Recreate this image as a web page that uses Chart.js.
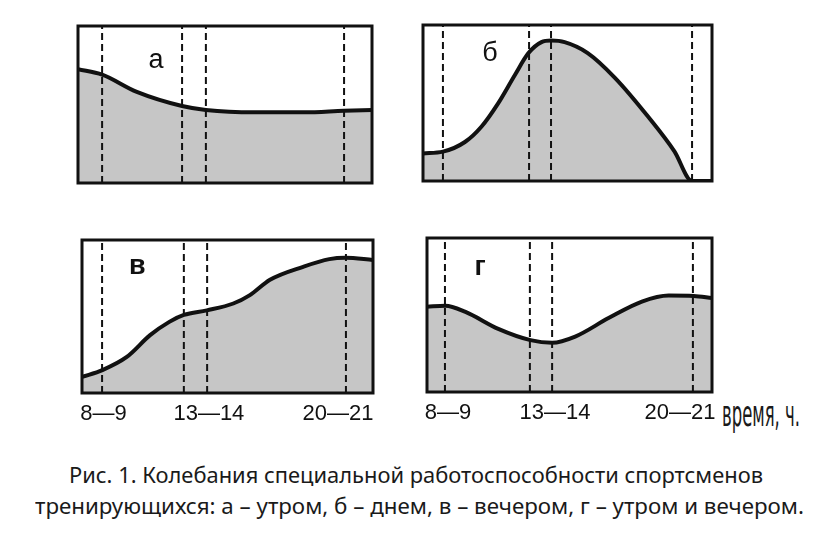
<!DOCTYPE html>
<html>
<head>
<meta charset="utf-8">
<script src="https://cdn.jsdelivr.net/npm/chart.js@4.4.0/dist/chart.umd.min.js"></script>
<style>
  html, body { margin: 0; padding: 0; background: #fff; }
  #root { position: relative; width: 828px; height: 534px; overflow: hidden; background: #fff; }
  canvas { position: absolute; }
  .txt { position: absolute; white-space: nowrap; color: #111; transform-origin: 0 0; }
  .cap { font-family: "Noto Sans", sans-serif; font-size: 21px; line-height: 21px; color: #1a1a1a; }
  .unit { font-family: "DejaVu Sans Condensed", "DejaVu Sans", sans-serif; font-stretch: condensed; font-size: 35px; line-height: 35px; color: #1a1a1a; }
</style>
</head>
<body>
<div id="root">
  <canvas id="cA"></canvas>
  <canvas id="cB"></canvas>
  <canvas id="cV"></canvas>
  <canvas id="cG"></canvas>
  <div class="txt unit" id="unit">время, ч.</div>
  <div class="txt cap" id="cap1">Рис. 1. Колебания специальной работоспособности спортсменов</div>
  <div class="txt cap" id="cap2">тренирующихся: а – утром, б – днем, в – вечером, г – утром и вечером.</div>
</div>
<script>
// ---- data (x in % of the panel width, y in % of panel height) ----
const panelLetters = ['а', 'б', 'в', 'г'];

const xA = [0, 8.2, 20, 35.4, 43.5, 60, 77, 90.5, 100];
const yA = [72.5, 69, 58, 49, 46.5, 45, 45, 46, 46.5];

const xB = [0, 6.9, 14.5, 20.2, 26, 31.8, 36.5, 41, 44.3, 49, 57, 66.5, 78, 87, 93.1, 100];
const yB = [17.7, 18.8, 25, 34.8, 49.8, 68, 82, 89, 90, 89, 82, 66, 41, 19, 0, 0];

const xV = [0, 7, 15.4, 23.4, 30, 35, 42.9, 52, 57.7, 64.6, 76, 85, 90.5, 100];
const yV = [10.5, 15, 23.6, 37.8, 46.5, 51, 54, 58.5, 64, 74, 82.5, 87.5, 88.4, 87];

const xG = [0, 6.4, 13.5, 25, 36.3, 43.9, 52, 63.7, 75.4, 84.8, 93.6, 100];
const yG = [55.4, 56, 52, 41, 33.7, 32, 36, 48, 58.7, 62.6, 62.4, 61];

const dashA = [8.2, 35.4, 43.5, 90.5];
const dashB = [6.9, 36.7, 44.3, 93.1];
const dashV = [6.9, 35, 43, 90.7];
const dashG = [6.3, 36.1, 43.9, 93.3];

const tickLabels = ['8—9', '13—14', '20—21'];
const tickPosV = [7.4, 43.6, 88];
const tickPosG = [7.4, 44.9, 88.8];

// ---- layout ----
const panels = [
  { id: 'cA', box: { l: 78,  t: 26,  r: 372, b: 183 }, xs: xA, ys: yA, dash: dashA, letter: panelLetters[0], lp: [26.5, 78], bold: false, ticks: null },
  { id: 'cB', box: { l: 423, t: 25,  r: 712, b: 181 }, xs: xB, ys: yB, dash: dashB, letter: panelLetters[1], lp: [23.2, 82], bold: false, ticks: null },
  { id: 'cV', box: { l: 82,  t: 240, r: 373, b: 393 }, xs: xV, ys: yV, dash: dashV, letter: panelLetters[2], lp: [19, 82.7], bold: true, ticks: tickPosV },
  { id: 'cG', box: { l: 427, t: 238, r: 712, b: 392 }, xs: xG, ys: yG, dash: dashG, letter: panelLetters[3], lp: [18.6, 80.5], bold: true, ticks: tickPosG }
];

const PAD = 3;
const AXIS_H = 40;

const framePlugin = {
  id: 'frame',
  afterDatasetsDraw(chart, args, opts) {
    const { ctx, chartArea: a, scales } = chart;
    ctx.save();
    ctx.lineWidth = 3;
    ctx.strokeStyle = '#111';
    ctx.strokeRect(a.left, a.top, a.right - a.left, a.bottom - a.top);
    ctx.fillStyle = '#111';
    ctx.font = (opts.bold ? 'bold ' : '') + '27px "Liberation Sans", Arial, sans-serif';
    ctx.textAlign = 'center';
    ctx.textBaseline = 'middle';
    ctx.fillText(opts.letter, scales.x.getPixelForValue(opts.lp[0]), scales.y.getPixelForValue(opts.lp[1]));
    ctx.restore();
  }
};

panels.forEach(p => {
  const w = p.box.r - p.box.l, h = p.box.b - p.box.t;
  const cv = document.getElementById(p.id);
  const cw = w + 2 * PAD;
  const ch = h + 2 * PAD + (p.ticks ? AXIS_H - PAD : 0);
  cv.width = cw; cv.height = ch;
  cv.style.left = (p.box.l - PAD) + 'px';
  cv.style.top = (p.box.t - PAD) + 'px';
  cv.style.width = cw + 'px'; cv.style.height = ch + 'px';

  const datasets = [{
    data: p.xs.map((x, i) => ({ x, y: p.ys[i] })),
    borderColor: '#111',
    borderWidth: 4,
    backgroundColor: '#c6c6c6',
    fill: 'origin',
    pointRadius: 0,
    cubicInterpolationMode: 'monotone',
    order: 0
  }];
  p.dash.forEach(d => datasets.push({
    data: [{ x: d, y: 0 }, { x: d, y: 100 }],
    borderColor: '#111',
    borderWidth: 2,
    borderDash: [7, 4],
    fill: false,
    pointRadius: 0,
    order: 1
  }));

  new Chart(cv, {
    type: 'line',
    data: { datasets },
    plugins: [framePlugin],
    options: {
      responsive: false,
      animation: false,
      devicePixelRatio: 1,
      layout: { padding: { left: PAD, right: PAD, top: PAD, bottom: 0 } },
      plugins: {
        legend: { display: false },
        tooltip: { enabled: false },
        filler: { drawTime: 'beforeDatasetsDraw' },
        frame: { letter: p.letter, lp: p.lp, bold: p.bold }
      },
      scales: {
        x: {
          type: 'linear', min: 0, max: 100,
          display: !!p.ticks,
          grid: { display: false, drawTicks: false },
          border: { display: false },
          afterBuildTicks: (axis) => { if (p.ticks) axis.ticks = p.ticks.map(v => ({ value: v })); },
          afterFit: (axis) => {
            axis.height = p.ticks ? AXIS_H : PAD;
            axis.paddingLeft = 0; axis.paddingRight = 0;
          },
          ticks: {
            autoSkip: false, maxRotation: 0, padding: 8,
            color: '#111',
            font: { family: '"Liberation Sans", Arial, sans-serif', size: 22 },
            callback: (v, i) => tickLabels[i]
          }
        },
        y: {
          type: 'linear', min: 0, max: 100, display: false
        }
      }
    }
  });
});

// ---- text placement ----
function place(id, left, top, targetW, center) {
  const el = document.getElementById(id);
  const w = el.getBoundingClientRect().width;
  const s = targetW / w;
  el.style.top = top + 'px';
  el.style.left = (center ? center - targetW / 2 : left) + 'px';
  el.style.transform = 'scaleX(' + s + ')';
}
place('unit', 722, 397, 78, null);
place('cap1', 0, 465, 694, 416);
place('cap2', 0, 496, 769, 419.5);
</script>
</body>
</html>
